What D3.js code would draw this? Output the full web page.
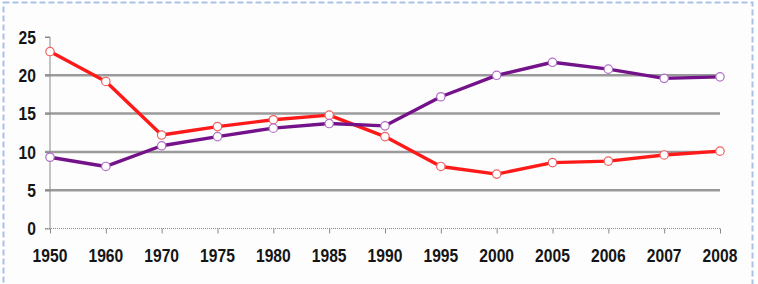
<!DOCTYPE html>
<html lang="en">
  <head>
    <meta charset="UTF-8" />
    <title>Line chart 1950-2008</title>
    <script src="https://d3js.org/d3.v7.min.js"></script>
    <style>
      body { margin: 0; background: #fff; }
      svg { display: block; }
      .tick-label { font-family: "Liberation Sans", Arial, sans-serif; font-weight: bold; font-size: 17px; fill: #151515; }
    </style>
  </head>
  <body>
    <svg id="chart" width="758" height="284"></svg>
    <script>
      const years = ["1950", "1960", "1970", "1975", "1980", "1985", "1990", "1995", "2000", "2005", "2006", "2007", "2008"];
      const redValues = [23.1, 19.2, 12.2, 13.3, 14.2, 14.8, 12.0, 8.1, 7.1, 8.6, 8.8, 9.6, 10.1];
      const purpleValues = [9.3, 8.1, 10.8, 12.0, 13.1, 13.7, 13.4, 17.2, 20.0, 21.7, 20.8, 19.6, 19.8];
      const yTicks = [0, 5, 10, 15, 20, 25];
      const gridValues = [5, 10, 15, 20];

      const svg = d3.select("#chart");

      // dashed frame
      svg.append("rect")
        .attr("x", 3.5).attr("y", 2.5)
        .attr("width", 749).attr("height", 300)
        .attr("fill", "#fdfdfe")
        .attr("stroke", "#a9c2e6")
        .attr("stroke-width", 2)
        .attr("stroke-dasharray", "6,3");

      const x = d3.scalePoint().domain(years).range([50, 720]);
      const y = d3.scaleLinear().domain([0, 25]).range([228.5, 37]);

      // gridlines
      svg.append("g")
        .selectAll("line")
        .data(gridValues)
        .join("line")
        .attr("x1", 45).attr("x2", 720)
        .attr("y1", (d) => y(d)).attr("y2", (d) => y(d))
        .attr("stroke", "#9a9a9a")
        .attr("stroke-width", 2.5);

      // y axis
      const yAxis = svg.append("g").attr("transform", "translate(50,0)");
      yAxis.call(d3.axisLeft(y).tickValues(yTicks).tickSize(5).tickFormat(""));
      yAxis.select(".domain").attr("stroke", "#8a8a8a").attr("d", `M-5,${y(25)}H0V${y(0)}`);
      yAxis.selectAll(".tick line").attr("stroke", "#8a8a8a");

      svg.append("g")
        .selectAll("text")
        .data(yTicks)
        .join("text")
        .attr("class", "tick-label")
        .attr("transform", (d) => `translate(36,${y(d)}) scale(0.92,1.1)`)
        .attr("dy", "0.36em")
        .attr("text-anchor", "end")
        .text((d) => d);

      // x axis
      const xAxis = svg.append("g").attr("transform", `translate(0,${y(0)})`);
      xAxis.call(d3.axisBottom(x).tickSize(5).tickFormat(""));
      xAxis.select(".domain")
        .attr("stroke", "#8a8a8a")
        .attr("stroke-dasharray", "1,1")
        .attr("d", `M45,0H${x("2008")}`);
      xAxis.selectAll(".tick line").attr("stroke", "#8a8a8a");

      svg.append("g")
        .selectAll("text")
        .data(years)
        .join("text")
        .attr("class", "tick-label")
        .attr("transform", (d) => `translate(${x(d)},262) scale(0.92,1.1)`)
        .attr("text-anchor", "middle")
        .text((d) => d);

      const series = [
        { values: redValues, color: "#ff1a1a", marker: "#f06060" },
        { values: purpleValues, color: "#74128a", marker: "#b070c8" }
      ];

      const line = d3.line()
        .x((d, i) => x(years[i]))
        .y((d) => y(d));

      series.forEach((s) => {
        svg.append("path")
          .datum(s.values)
          .attr("fill", "none")
          .attr("stroke", s.color)
          .attr("stroke-width", 3.4)
          .attr("stroke-linejoin", "round")
          .attr("d", line);

        svg.append("g")
          .selectAll("circle")
          .data(s.values)
          .join("circle")
          .attr("cx", (d, i) => x(years[i]))
          .attr("cy", (d) => y(d))
          .attr("r", 4.2)
          .attr("fill", "#fff")
          .attr("stroke", s.marker)
          .attr("stroke-width", 1.2);
      });
    </script>
  </body>
</html>
